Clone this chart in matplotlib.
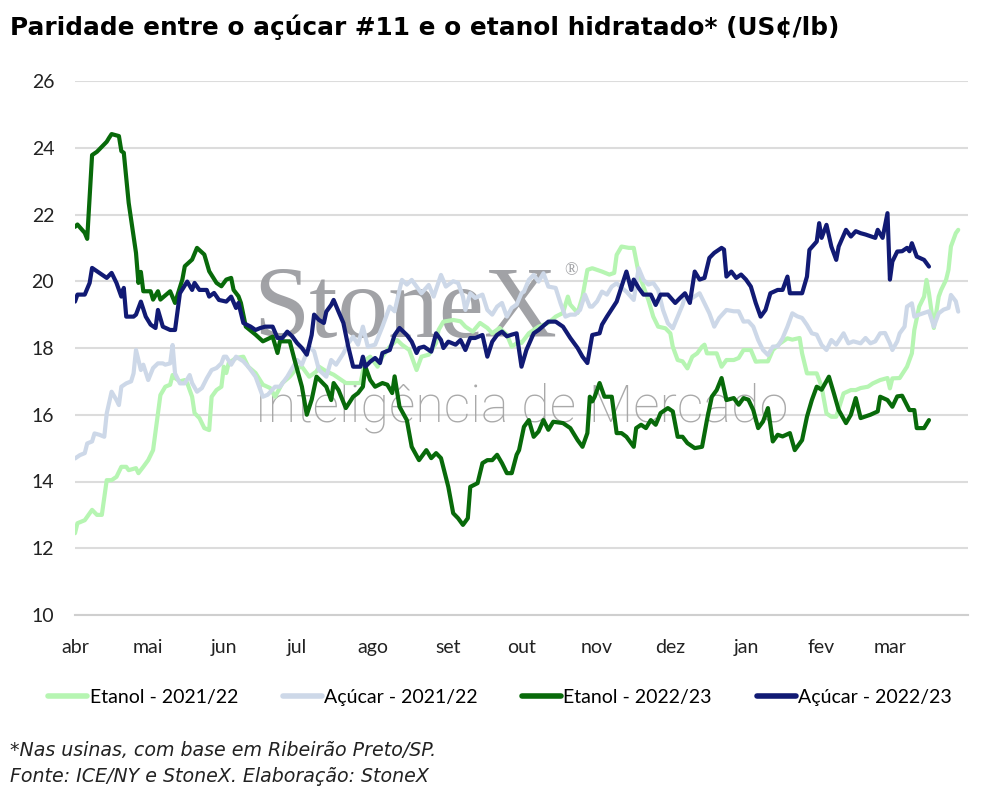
import numpy as np
import pandas as pd
import matplotlib
matplotlib.use("Agg")
import matplotlib.pyplot as plt

plt.rcParams['font.family'] = ['Lato', 'DejaVu Sans']

# ---------------- data ----------------
inicio = pd.Timestamp('2022-04-01')
meses = ['abr', 'mai', 'jun', 'jul', 'ago', 'set', 'out', 'nov', 'dez', 'jan', 'fev', 'mar']
yticks = [10, 12, 14, 16, 18, 20, 22, 24, 26]

# days since 1 April of each season
etanol_2122_dias = [
    0, 1, 4, 6, 7, 9, 11, 13, 15, 17,
    19, 21, 22, 25, 26, 28, 30, 32, 34, 35,
    37, 39, 40, 41, 43, 45, 46, 48, 49, 51,
    53, 55, 56, 58, 60, 61, 62, 63, 66, 69,
    71, 74, 77, 80, 82, 85, 88, 91, 93, 96,
    99, 100, 103, 106, 111, 114, 117, 119, 121, 124,
    126, 129, 132, 134, 137, 140, 142, 145, 148, 149,
    151, 155, 158, 160, 163, 166, 169, 171, 174, 177,
    179, 182, 183, 186, 190, 194, 197, 200, 202, 203,
    206, 208, 210, 212, 216, 219, 221, 222, 224, 227,
    229, 231, 233, 235, 237, 239, 242, 244, 245, 247,
    249, 251, 253, 255, 257, 258, 259, 261, 263, 265,
    267, 270, 272, 274, 277, 279, 281, 284, 286, 289,
    292, 294, 297, 298, 300, 302, 304, 306, 308, 310,
    312, 315, 318, 320, 322, 325, 327, 330, 333, 334,
    335, 338, 341, 343, 344, 346, 348, 349, 350, 352,
    354, 355, 357, 358, 359, 361, 362]
etanol_2122 = [
    12.45, 12.75, 12.84, 13.05, 13.15, 13.0, 13.0, 14.04, 14.04, 14.14,
    14.44, 14.44, 14.34, 14.4, 14.25, 14.44, 14.64, 14.94, 16.05, 16.59,
    16.84, 16.9, 17.19, 17.1, 17.0, 17.04, 16.95, 16.54, 16.05, 15.9,
    15.6, 15.54, 16.54, 16.74, 16.84, 17.44, 17.25, 17.55, 17.7, 17.74,
    17.44, 17.25, 16.9, 16.8, 16.54, 16.95, 17.14, 17.4, 17.44, 17.14,
    17.3, 17.44, 17.3, 17.2, 16.95, 16.95, 16.95, 17.64, 17.74, 17.44,
    17.74, 18.04, 18.24, 18.1, 17.94, 17.34, 17.74, 17.8, 18.15, 18.54,
    18.79, 18.84, 18.8, 18.64, 18.49, 18.75, 18.6, 18.44, 18.6, 18.4,
    18.04, 18.19, 18.15, 18.44, 18.64, 18.75, 18.94, 19.05, 19.54, 19.3,
    19.05, 19.54, 20.34, 20.39, 20.29, 20.2, 20.25, 20.79, 21.04, 21.0,
    21.0, 20.25, 19.84, 19.44, 18.94, 18.64, 18.59, 18.44, 18.04, 17.64,
    17.6, 17.39, 17.74, 17.84, 18.04, 18.1, 17.84, 17.84, 17.84, 17.44,
    17.64, 17.64, 17.7, 17.94, 17.94, 17.59, 17.6, 17.6, 17.94, 18.14,
    18.29, 18.25, 18.3, 17.84, 17.24, 17.24, 17.24, 16.84, 16.04, 15.94,
    15.94, 16.64, 16.74, 16.74, 16.8, 16.84, 16.94, 17.04, 17.1, 16.79,
    17.09, 17.1, 17.44, 17.84, 18.54, 19.24, 19.54, 20.04, 19.64, 18.6,
    19.54, 19.74, 20.04, 20.34, 21.04, 21.44, 21.54]

acucar_2122_dias = [
    0, 2, 4, 5, 7, 8, 10, 12, 13, 15,
    17, 18, 19, 21, 23, 24, 25, 27, 28, 30,
    32, 34, 36, 37, 39, 40, 41, 43, 45, 47,
    48, 50, 52, 54, 56, 58, 60, 61, 62, 64,
    66, 69, 71, 74, 77, 79, 82, 84, 87, 89,
    91, 93, 96, 98, 100, 103, 105, 107, 110, 112,
    114, 116, 118, 120, 123, 126, 129, 131, 133, 134,
    136, 138, 140, 142, 145, 147, 150, 152, 155, 157,
    159, 160, 162, 164, 167, 169, 171, 173, 175, 177,
    179, 181, 183, 184, 186, 188, 190, 192, 194, 197,
    199, 201, 203, 205, 207, 209, 211, 212, 214, 216,
    218, 220, 222, 224, 226, 229, 231, 233, 235, 237,
    239, 241, 243, 245, 247, 249, 250, 253, 256, 258,
    260, 262, 264, 267, 270, 272, 274, 276, 278, 280,
    282, 284, 286, 288, 290, 292, 294, 296, 298, 300,
    302, 304, 306, 308, 310, 312, 315, 317, 319, 322,
    324, 326, 328, 330, 332, 334, 335, 337, 338, 340,
    341, 343, 344, 346, 348, 350, 352, 354, 356, 358,
    359, 361, 362]
acucar_2122 = [
    14.69, 14.79, 14.85, 15.14, 15.2, 15.44, 15.4, 15.34, 16.04, 16.69,
    16.44, 16.29, 16.84, 16.94, 17.0, 17.24, 17.94, 17.34, 17.5, 17.04,
    17.4, 17.54, 17.54, 17.5, 17.54, 18.09, 17.24, 16.94, 16.94, 17.19,
    16.95, 16.69, 16.8, 17.09, 17.34, 17.4, 17.54, 17.74, 17.74, 17.5,
    17.74, 17.6, 17.44, 17.14, 16.54, 16.6, 16.84, 16.84, 17.14, 17.39,
    17.64, 17.5, 18.04, 17.9, 17.34, 17.14, 17.64, 17.5, 17.84, 18.14,
    18.34, 18.1, 18.64, 18.04, 18.1, 18.64, 19.24, 19.1, 19.74, 20.04,
    19.9, 20.04, 19.84, 19.64, 19.89, 19.54, 20.19, 19.84, 20.0, 19.95,
    19.54, 19.14, 19.64, 19.5, 19.6, 19.14, 19.0, 19.24, 19.35, 18.94,
    19.2, 19.3, 19.64, 19.69, 20.04, 20.19, 19.99, 20.24, 19.84, 19.8,
    19.34, 18.94, 19.0, 19.0, 19.14, 19.6, 19.24, 19.24, 19.4, 19.69,
    19.6, 19.84, 19.94, 19.8, 19.69, 19.44, 20.39, 20.04, 19.9, 19.95,
    19.74, 19.14, 18.74, 18.59, 18.94, 19.29, 19.54, 19.5, 19.64, 19.34,
    19.04, 18.64, 18.9, 19.14, 19.1, 19.1, 18.79, 18.8, 18.64, 18.24,
    17.94, 17.79, 18.04, 18.05, 18.29, 18.64, 19.04, 18.95, 18.9, 18.69,
    18.44, 18.4, 18.09, 17.94, 18.24, 18.1, 18.44, 18.14, 18.2, 18.14,
    18.3, 18.14, 18.2, 18.44, 18.45, 18.14, 17.94, 18.2, 18.44, 18.64,
    19.24, 19.34, 18.94, 19.0, 19.05, 19.1, 18.64, 19.04, 19.15, 19.2,
    19.59, 19.4, 19.09]

etanol_2223_dias = [
    0, 1, 4, 5, 7, 9, 13, 14, 15, 18,
    19, 20, 22, 25, 26, 27, 28, 31, 32, 34,
    35, 39, 41, 44, 45, 48, 50, 53, 55, 58,
    60, 62, 64, 65, 67, 68, 70, 74, 77, 81,
    83, 84, 88, 90, 93, 95, 97, 99, 103, 105,
    106, 108, 111, 114, 116, 118, 119, 121, 123, 126,
    128, 130, 131, 133, 136, 138, 141, 144, 146, 148,
    150, 153, 155, 157, 159, 161, 162, 165, 167, 169,
    171, 173, 175, 177, 179, 181, 182, 184, 186, 188,
    190, 192, 194, 196, 200, 203, 206, 208, 210, 211,
    212, 213, 215, 217, 218, 220, 222, 224, 226, 229,
    230, 232, 234, 236, 238, 240, 243, 245, 247, 249,
    251, 254, 257, 259, 261, 263, 265, 267, 270, 272,
    274, 276, 278, 280, 282, 284, 286, 288, 290, 293,
    295, 298, 300, 302, 304, 306, 309, 311, 313, 316,
    318, 320, 322, 326, 329, 330, 333, 335, 337, 339,
    342, 344, 345, 348, 350]
etanol_2223 = [
    21.63, 21.7, 21.45, 21.27, 23.78, 23.88, 24.18, 24.3, 24.41, 24.35,
    23.9, 23.85, 22.35, 20.85, 19.95, 20.28, 19.7, 19.7, 19.45, 19.7,
    19.45, 19.7, 19.35, 20.05, 20.45, 20.65, 21.0, 20.8, 20.3, 19.95,
    19.85, 20.05, 20.1, 19.74, 19.55, 19.35, 18.64, 18.4, 18.2, 18.34,
    17.85, 18.2, 18.2, 17.64, 16.84, 16.0, 16.45, 17.14, 16.84, 16.44,
    16.95, 16.74, 16.2, 16.54, 16.65, 16.84, 17.44, 17.04, 16.84, 16.95,
    16.9, 16.65, 17.15, 16.24, 15.84, 15.04, 14.64, 14.94, 14.7, 14.85,
    14.7, 13.84, 13.05, 12.9, 12.7, 12.9, 13.84, 13.95, 14.55, 14.64,
    14.64, 14.8, 14.55, 14.25, 14.25, 14.8, 14.94, 15.64, 15.84, 15.34,
    15.5, 15.84, 15.55, 15.79, 15.75, 15.6, 15.24, 15.04, 15.45, 16.54,
    16.4, 16.54, 16.95, 16.54, 16.54, 16.54, 15.45, 15.45, 15.34, 15.04,
    15.6, 15.7, 15.6, 15.84, 15.7, 16.05, 16.2, 16.1, 15.34, 15.34,
    15.15, 15.0, 15.04, 15.84, 16.54, 16.74, 17.1, 16.44, 16.5, 16.3,
    16.5, 16.45, 16.14, 15.6, 15.8, 16.2, 15.2, 15.4, 15.35, 15.45,
    14.94, 15.24, 15.94, 16.44, 16.84, 16.75, 17.14, 16.65, 16.14, 15.75,
    16.0, 16.5, 15.9, 16.0, 16.1, 16.54, 16.44, 16.24, 16.55, 16.57,
    16.14, 16.14, 15.6, 15.6, 15.84]

acucar_2223_dias = [
    0, 1, 4, 6, 7, 10, 13, 15, 17, 19,
    20, 21, 24, 25, 27, 29, 31, 33, 34, 36,
    39, 41, 43, 46, 48, 49, 51, 54, 55, 57,
    59, 62, 64, 66, 67, 69, 72, 74, 76, 78,
    81, 83, 85, 87, 89, 91, 93, 95, 97, 98,
    100, 102, 103, 105, 106, 108, 110, 112, 114, 117,
    118, 119, 121, 123, 125, 126, 129, 131, 133, 136,
    138, 140, 141, 143, 146, 148, 150, 151, 153, 156,
    158, 160, 162, 164, 167, 169, 171, 173, 175, 177,
    179, 181, 183, 185, 188, 190, 194, 197, 200, 203,
    206, 208, 210, 212, 215, 216, 218, 222, 224, 226,
    228, 229, 231, 233, 236, 238, 240, 243, 246, 248,
    250, 252, 254, 256, 258, 260, 262, 265, 266, 267,
    269, 271, 273, 275, 277, 279, 281, 283, 285, 288,
    290, 292, 293, 296, 298, 300, 301, 304, 305, 306,
    308, 310, 312, 313, 316, 318, 320, 322, 324, 328,
    329, 331, 333, 334, 335, 337, 339, 341, 342, 343,
    345, 348, 350]
acucar_2223 = [
    19.39, 19.6, 19.6, 19.95, 20.4, 20.25, 20.1, 20.25, 19.95, 19.54,
    19.8, 18.94, 18.94, 19.0, 19.39, 18.94, 18.7, 18.6, 19.14, 18.64,
    18.54, 18.54, 19.64, 19.99, 19.74, 19.95, 19.74, 19.74, 19.54, 19.65,
    19.44, 19.39, 19.54, 19.2, 19.35, 18.75, 18.64, 18.54, 18.6, 18.64,
    18.64, 18.3, 18.3, 18.49, 18.35, 18.15, 18.0, 17.8, 18.39, 19.0,
    18.84, 18.75, 19.09, 19.29, 19.44, 19.09, 18.75, 18.04, 17.44, 17.44,
    17.74, 17.44, 17.59, 17.7, 17.55, 17.85, 17.94, 18.39, 18.6, 18.39,
    18.19, 17.85, 18.0, 18.04, 17.89, 18.44, 18.24, 18.0, 18.19, 18.1,
    18.24, 17.94, 18.3, 18.3, 18.39, 17.74, 18.19, 18.39, 18.49, 18.35,
    18.4, 18.44, 17.44, 17.94, 18.44, 18.54, 18.79, 18.79, 18.64, 18.3,
    18.0, 17.74, 17.55, 18.39, 18.44, 18.7, 18.94, 19.39, 19.84, 20.29,
    19.74, 20.05, 19.8, 19.6, 19.6, 19.29, 19.6, 19.6, 19.35, 19.5,
    19.64, 19.35, 20.29, 20.05, 20.1, 20.7, 20.85, 21.0, 20.95, 20.14,
    20.29, 20.1, 20.2, 20.05, 19.84, 19.35, 18.94, 19.14, 19.64, 19.74,
    19.74, 20.14, 19.64, 19.64, 19.64, 20.14, 20.94, 21.19, 21.74, 21.3,
    21.69, 21.04, 20.64, 21.04, 21.54, 21.34, 21.5, 21.44, 21.4, 21.3,
    21.54, 21.3, 22.04, 20.05, 20.59, 20.89, 20.9, 21.0, 20.9, 21.14,
    20.74, 20.64, 20.44]

series = [
    ('Etanol - 2021/22', etanol_2122_dias, etanol_2122, '#b6f5b2'),
    ('Açúcar - 2021/22', acucar_2122_dias, acucar_2122, '#cdd8e8'),
    ('Etanol - 2022/23', etanol_2223_dias, etanol_2223, '#086a0a'),
    ('Açúcar - 2022/23', acucar_2223_dias, acucar_2223, '#111a74'),
]

# ---------------- figure ----------------
W, H = 990, 798
fig = plt.figure(figsize=(W / 100, H / 100), dpi=100)
fig.patch.set_facecolor('white')
ax = fig.add_axes([75 / W, 1 - 615 / H, (968 - 75) / W, (615 - 81) / H])

for nome, dias, vals, cor in series:
    ax.plot(dias, vals, color=cor, lw=3.0, label=nome, solid_joinstyle='round',
            solid_capstyle='round', zorder=3)

month_starts = pd.date_range(inicio, periods=12, freq='MS')
ax.set_xticks([(d - inicio).days for d in month_starts])
ax.set_xticklabels(meses)
ax.set_xlim(0, 366)
ax.set_ylim(10, 26)
ax.set_yticks(yticks)
ax.set_yticklabels([str(v) for v in yticks])

ax.yaxis.grid(True, color='#dcdcdc', lw=1.5, zorder=0)
ax.set_axisbelow(True)
for s in ['left', 'right', 'top']:
    ax.spines[s].set_visible(False)
ax.spines['bottom'].set_color('#cfcfcf')
ax.spines['bottom'].set_linewidth(1.5)
ax.tick_params(axis='both', length=0, labelsize=14, colors='#222222')
ax.tick_params(axis='y', pad=15)
ax.tick_params(axis='x', pad=17)

# watermark
ax.text(0.2, 0.52, 'StoneX', transform=ax.transAxes, fontsize=73,
        family=['Liberation Serif', 'DejaVu Serif'], color='#97989c', alpha=0.9,
        va='baseline', ha='left', zorder=1)
ax.text(0.548, 0.637, '®', transform=ax.transAxes, fontsize=13,
        family=['Liberation Serif', 'DejaVu Serif'], color='#97989c', alpha=0.9,
        va='baseline', ha='left', zorder=1)
ax.text(0.2, 0.362, 'Inteligência de Mercado', transform=ax.transAxes, fontsize=37.5,
        family=['Roboto', 'DejaVu Sans'], fontweight='light', color='#a0a0a0', alpha=0.9,
        va='baseline', ha='left', zorder=1)

# title
fig.text(10 / W, 1 - 27 / H, 'Paridade entre o açúcar #11 e o etanol hidratado* (US¢/lb)',
         fontsize=17.8, fontweight='heavy', family=['DejaVu Sans'], color='black',
         va='center', ha='left')

# legend
leg = fig.legend(loc='center', bbox_to_anchor=(500 / W, 1 - 697 / H), ncol=4,
                 frameon=False, fontsize=14, handlelength=2.0, handletextpad=0.12,
                 columnspacing=2.3)
for line in leg.get_lines():
    line.set_linewidth(4)

# footnotes
fig.text(10 / W, 1 - 750 / H, '*Nas usinas, com base em Ribeirão Preto/SP.',
         fontsize=13.7, style='italic', family=['DejaVu Sans'],
         color='#222222', va='center', ha='left')
fig.text(10 / W, 1 - 776 / H, 'Fonte: ICE/NY e StoneX. Elaboração: StoneX',
         fontsize=13.7, style='italic', family=['DejaVu Sans'],
         color='#222222', va='center', ha='left')

fig.savefig('out.png', dpi=100, facecolor='white')
